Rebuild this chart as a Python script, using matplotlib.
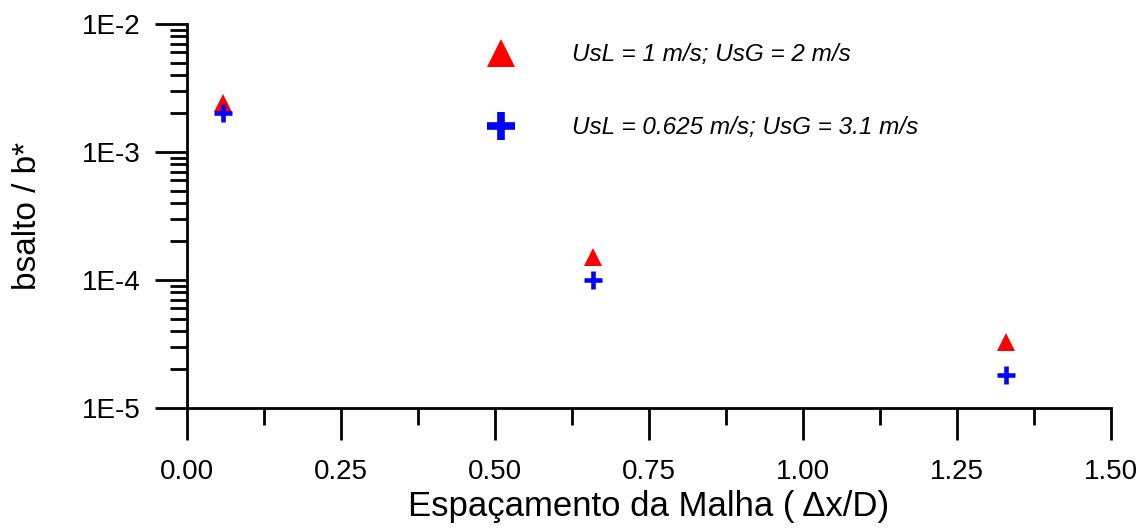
import matplotlib
matplotlib.use("Agg")
import matplotlib.pyplot as plt
from matplotlib.lines import Line2D
from matplotlib.ticker import FixedLocator, FuncFormatter, LogLocator, NullFormatter
import numpy as np

plt.rcParams['font.family'] = ['Liberation Sans', 'DejaVu Sans']

# mesh spacing (dx/D) and normalised jump amplitude for each case
spacing = [0.06, 0.66, 1.33]
case1_label = "UsL = 1 m/s; UsG = 2 m/s"
case1_vals = [2.4e-3, 1.5e-4, 3.3e-5]
case2_label = "UsL = 0.625 m/s; UsG = 3.1 m/s"
case2_vals = [2.0e-3, 1.0e-4, 1.8e-5]

x_ticks = [0.0, 0.25, 0.5, 0.75, 1.0, 1.25, 1.5]

fig = plt.figure(figsize=(11.47, 5.28), dpi=100)
ax = fig.add_axes([0.1626, 0.2273, 0.9686 - 0.1626, 0.9545 - 0.2273])

ax.plot(spacing, case1_vals, linestyle='none', marker='^', markersize=12.5,
        color='#ff0000', markeredgewidth=0)
ax.plot(spacing, case2_vals, linestyle='none', marker='+', markersize=13,
        color='#0000ff', markeredgewidth=3.3)

ax.set_yscale('log')
ax.set_xlim(0, 1.5)
ax.set_ylim(1e-5, 1e-2)

ax.xaxis.set_major_locator(FixedLocator(x_ticks))
ax.xaxis.set_minor_locator(FixedLocator(np.arange(0.125, 1.5, 0.25)))
ax.xaxis.set_major_formatter(FuncFormatter(lambda v, p: f"{v:.2f}"))
ax.yaxis.set_major_locator(LogLocator(base=10, numticks=10))
ax.yaxis.set_minor_locator(LogLocator(base=10, subs=np.arange(2, 10), numticks=50))
ax.yaxis.set_minor_formatter(NullFormatter())
ax.yaxis.set_major_formatter(FuncFormatter(lambda v, p: f"1E{int(round(np.log10(v)))}"))

for s in ['top', 'right']:
    ax.spines[s].set_visible(False)
for s in ['left', 'bottom']:
    ax.spines[s].set_linewidth(2)

ax.tick_params(which='major', direction='out', length=23, width=2, labelsize=20)
ax.tick_params(which='minor', direction='out', length=12, width=2)
ax.tick_params(axis='x', which='major', pad=14)
ax.tick_params(axis='y', which='major', pad=10)

ax.set_xlabel("Espaçamento da Malha ( Δx/D)", fontsize=25, labelpad=3)
ax.set_ylabel("bsalto / b*", fontsize=24, labelpad=28)

handles = [
    Line2D([], [], linestyle='none', marker='^', markersize=19.5,
           color='#ff0000', markeredgewidth=0),
    Line2D([], [], linestyle='none', marker='+', markersize=20,
           color='#0000ff', markeredgewidth=5.5),
]
leg = ax.legend(handles, [case1_label, case2_label], loc='upper left',
                bbox_to_anchor=((477 - 186.5) / 924.5, 0.95), frameon=False,
                prop={'style': 'italic', 'size': 17.5}, borderpad=0, borderaxespad=0,
                handlelength=2, handletextpad=1.9, labelspacing=2.05)

fig.savefig("out.png", dpi=100)
